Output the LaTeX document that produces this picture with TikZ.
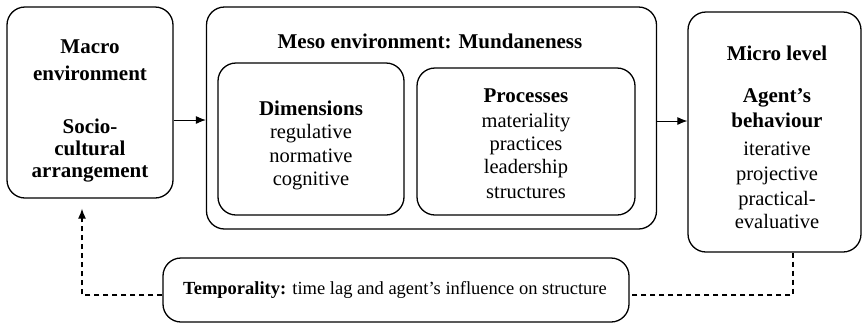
\documentclass[tikz,border=0pt]{standalone}
\usepackage{fontspec}
\setmainfont{Liberation Serif}
\usetikzlibrary{arrows.meta}
\begin{document}
\begin{tikzpicture}[x=1pt,y=-1pt,
  box/.style={draw, line width=1.3pt, rounded corners=18pt, inner sep=0pt},
  txt/.style={inner sep=0pt, text height=13.5pt, text depth=3.5pt},
  bt/.style={txt, font=\fontsize{21}{25}\selectfont\bfseries},
  rt/.style={txt, font=\fontsize{20.5}{24}\selectfont},
  arr/.style={line width=0.9pt, -{Latex[length=10pt,width=8pt]}},
  dsh/.style={line width=1.2pt, dash pattern=on 5pt off 4pt}]
\useasboundingbox (0,0) rectangle (863,325);
% boxes
\node[box, minimum width=166pt, minimum height=191pt] (macro) at (90,102.5) {};
\node[box, minimum width=450pt, minimum height=222pt] (meso) at (431.5,118) {};
\node[box, minimum width=186pt, minimum height=152pt] (dim) at (311,139) {};
\node[box, minimum width=218pt, minimum height=147pt] (proc) at (526,141.5) {};
\node[box, minimum width=173pt, minimum height=240pt] (micro) at (774.5,132) {};
\node[box, minimum width=466pt, minimum height=64pt] (temp) at (396,290) {};
% macro texts
\node[bt] (ma1) at (90,48) {Macro};
\node[bt] (ma2) at (90,75) {environment};
\node[bt] (ma3) at (90,128) {Socio-};
\node[bt] (ma4) at (90,150) {cultural};
\node[bt] (ma5) at (90,172) {arrangement};
% meso texts
\node[bt] (me0) at (430,43) {Meso environment: Mundaneness};
\node[bt] (d0) at (311,110) {Dimensions};
\node[rt] (d1) at (311,133) {regulative};
\node[rt] (d2) at (311,157) {normative};
\node[rt] (d3) at (311,180) {cognitive};
\node[bt] (p0) at (526,97) {Processes};
\node[rt] (p1) at (526,122) {materiality};
\node[rt] (p2) at (526,145) {practices};
\node[rt] (p3) at (526,168) {leadership};
\node[rt] (p4) at (526,193) {structures};
% micro texts
\node[bt] (mi0) at (777,55) {Micro level};
\node[bt] (mi1) at (777,97) {Agent’s};
\node[bt] (mi2) at (777,122) {behaviour};
\node[rt] (mi3) at (777,150) {iterative};
\node[rt] (mi4) at (777,175) {projective};
\node[rt] (mi5) at (777,200) {practical-};
\node[rt] (mi6) at (777,223) {evaluative};
% temporality
\node[inner sep=0pt, font=\fontsize{18.5}{22}\selectfont] (t0) at (395,290) {\textbf{Temporality:} time lag and agent’s influence on structure};
% arrows
\draw[arr] (macro.east |- 0,120) -- (meso.west |- 0,120);
\draw[arr] (meso.east |- 0,121) -- (micro.west |- 0,121);
\coordinate (c1) at (793,295);
\coordinate (c2) at (82,295);
\draw[dsh] (micro.south -| c1) |- (c1 -| temp.east);
\draw[dsh, shorten >=10pt, -{Latex[length=10pt,width=8pt]}] (c2 -| temp.west) -| (macro.south -| c2);
\end{tikzpicture}
\end{document}
